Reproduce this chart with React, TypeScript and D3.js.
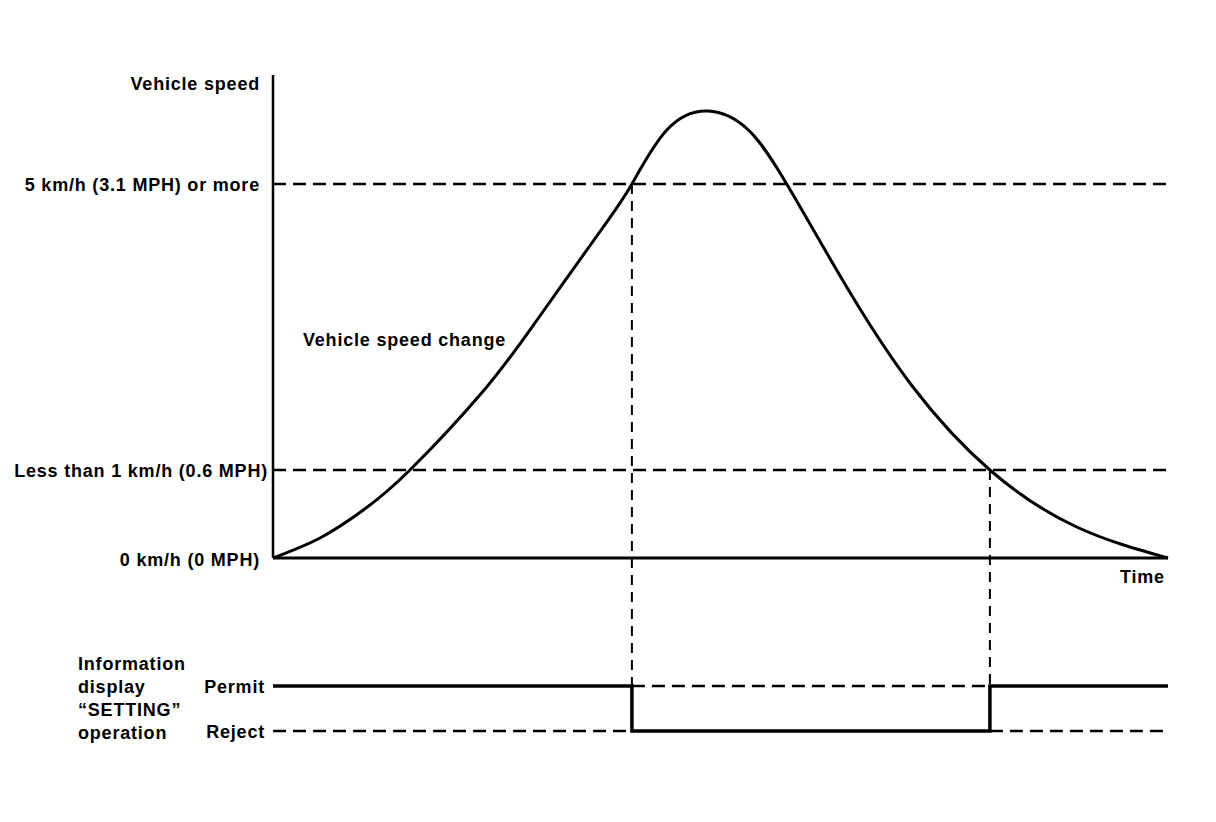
import React from "react";
import * as d3 from "d3";

// Time axis (arbitrary 0–100) and vehicle speed (schematic units)
const timePoints = [0, 5.25, 10.1, 15.3, 23.5, 29.5, 36.9, 40.1, 44.0, 48.6, 53.0, 57.4, 64.1, 71.5, 80.1, 89.8, 100];
const speedValues = [0, 20, 48, 88, 167, 238, 331, 374, 428, 447, 429, 374, 271, 171, 88, 31, 0];

const thresholdLabels = ["5 km/h (3.1 MPH) or more", "Less than 1 km/h (0.6 MPH)"];
const thresholdValues = [374, 88];
const thresholdCrossTimes = [40.1, 80.1];

const stateLevels = ["Permit", "Reject"];
const stateTimes = [0, 40.1, 80.1, 100];
const stateValues = ["Permit", "Reject", "Permit", "Permit"];

const sideLabelLines = ["Information", "display", "\u201cSETTING\u201d", "operation"];

const W = 1216;
const H = 822;
const FONT = "'Liberation Sans', Arial, Helvetica, sans-serif";

export default function App() {
  const x = d3.scaleLinear().domain([0, 100]).range([273, 1168]);
  const y = d3.scaleLinear().domain([0, 483]).range([558, 75]);
  const ys = d3.scalePoint<string>().domain(stateLevels).range([686, 731]);

  const pts = timePoints.map((t, i) => [t, speedValues[i]] as [number, number]);
  const curve = d3
    .line<[number, number]>()
    .x((d) => x(d[0]))
    .y((d) => y(d[1]))
    .curve(d3.curveNatural)(pts) as string;

  const stepPts = stateTimes.map((t, i) => [t, stateValues[i]] as [number, string]);
  const step = d3
    .line<[number, string]>()
    .x((d) => x(d[0]))
    .y((d) => ys(d[1]) as number)
    .curve(d3.curveStepAfter)(stepPts) as string;

  // dashed complement segments
  const dashSegs: { t0: number; t1: number; level: string }[] = [];
  for (let i = 0; i < stateTimes.length - 1; i++) {
    const other = stateLevels.find((l) => l !== stateValues[i]) as string;
    if (stateTimes[i + 1] > stateTimes[i]) dashSegs.push({ t0: stateTimes[i], t1: stateTimes[i + 1], level: other });
  }

  const textStyle: React.CSSProperties = {
    fontFamily: FONT,
    fontSize: 18,
    fontWeight: 700,
    letterSpacing: 0.8,
    fill: "#000",
  };

  return (
    <svg width={W} height={H} style={{ position: "absolute", left: 0, top: 0, background: "#fff" }}>
      <rect width={W} height={H} fill="#fff" />
      {/* threshold dashed lines */}
      {thresholdValues.map((v, i) => (
        <line key={"th" + i} x1={x(0)} x2={x(100)} y1={y(v)} y2={y(v)} stroke="#000" strokeWidth={2.5} strokeDasharray="13,7" />
      ))}
      {/* vertical dashed drop lines */}
      {thresholdCrossTimes.map((t, i) => (
        <line key={"vd" + i} x1={x(t)} x2={x(t)} y1={y(thresholdValues[i])} y2={ys("Permit") as number} stroke="#000" strokeWidth={2} strokeDasharray="10,7" />
      ))}
      {/* axes */}
      <line x1={x(0)} x2={x(0)} y1={y(483)} y2={y(0)} stroke="#000" strokeWidth={2.5} />
      <line x1={x(0)} x2={x(100)} y1={y(0)} y2={y(0)} stroke="#000" strokeWidth={3} />
      {/* speed curve */}
      <path d={curve} fill="none" stroke="#000" strokeWidth={3} />

      {/* state dashed complements */}
      {dashSegs.map((s, i) => (
        <line key={"ds" + i} x1={x(s.t0)} x2={x(s.t1)} y1={ys(s.level) as number} y2={ys(s.level) as number} stroke="#000" strokeWidth={2.5} strokeDasharray="13,7" />
      ))}
      {/* state step line */}
      <path d={step} fill="none" stroke="#000" strokeWidth={3.5} />

      {/* labels */}
      <text x={260} y={90} textAnchor="end" style={textStyle}>Vehicle speed</text>
      <text x={260} y={y(thresholdValues[0]) + 6.5} textAnchor="end" style={textStyle}>{thresholdLabels[0]}</text>
      <text x={268} y={y(thresholdValues[1]) + 6.5} textAnchor="end" style={textStyle}>{thresholdLabels[1]}</text>
      <text x={260} y={y(0) + 8} textAnchor="end" style={textStyle}>0 km/h (0 MPH)</text>
      <text x={1120} y={583} style={textStyle}>Time</text>
      <text x={303} y={346} style={textStyle}>Vehicle speed change</text>

      {sideLabelLines.map((s, i) => (
        <text key={"sl" + i} x={78} y={670 + i * 23} style={textStyle}>{s}</text>
      ))}
      {stateLevels.map((l) => (
        <text key={"st" + l} x={265} y={(ys(l) as number) + 6.5} textAnchor="end" style={textStyle}>{l}</text>
      ))}
    </svg>
  );
}
